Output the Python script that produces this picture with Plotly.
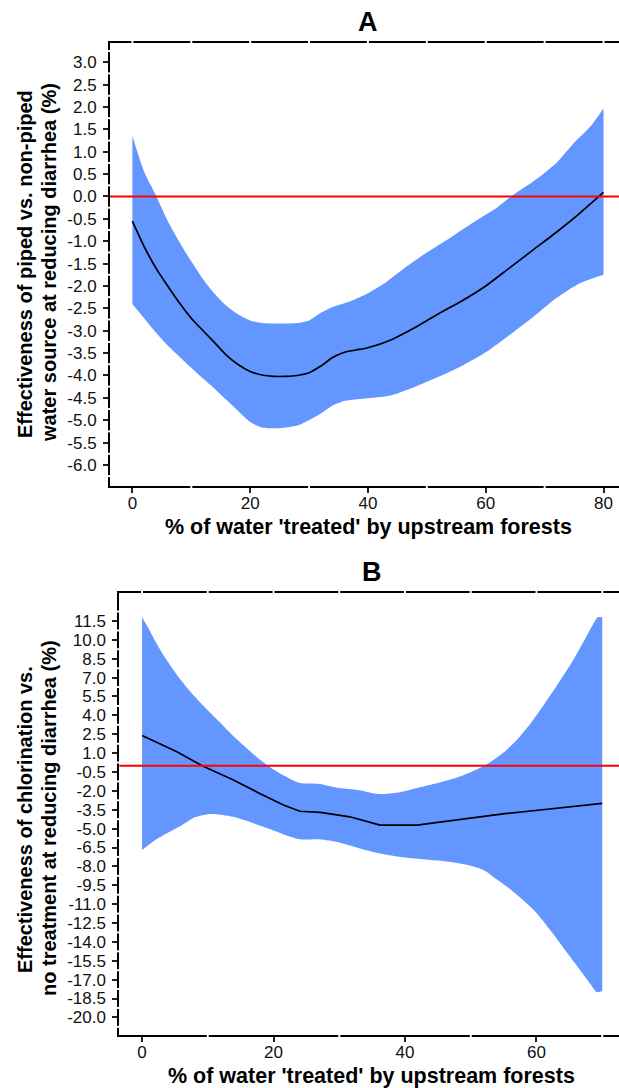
import plotly.graph_objects as go

# ---------------- data: panel A ----------------
a_line_x = [0, 2, 4, 6, 8, 10, 12, 14, 16, 18, 20, 22, 24, 26, 28, 30, 32, 34, 36, 38, 40,
            44, 48, 52, 56, 60, 64, 68, 72, 76, 80]
a_line_y = [-0.55, -1.12, -1.6, -2.0, -2.38, -2.72, -3.0, -3.27, -3.55, -3.76, -3.91, -3.99,
            -4.02, -4.02, -4.0, -3.94, -3.79, -3.6, -3.48, -3.43, -3.38,
            -3.2, -2.93, -2.62, -2.33, -2.0, -1.6, -1.2, -0.8, -0.37, 0.09]

a_up_x = [0, 2, 4, 6, 8, 10, 12, 14, 16, 18, 20, 22, 25, 28, 30, 32, 34, 37, 40, 43, 46,
          50, 54, 58, 62, 64.7, 68, 72, 75, 78, 80]
a_up_y = [1.35, 0.55, 0.02, -0.55, -1.02, -1.45, -1.85, -2.18, -2.45, -2.64, -2.77, -2.83,
          -2.84, -2.83, -2.77, -2.6, -2.47, -2.34, -2.16, -1.92, -1.62,
          -1.25, -0.92, -0.57, -0.24, 0.04, 0.33, 0.75, 1.2, 1.6, 1.97]

a_lo_x = [0, 2, 4, 6, 8, 10, 12, 14, 16, 18, 20, 22, 25, 28, 30, 32, 34, 36, 40, 44, 48,
          52, 56, 60, 64, 68, 72, 76, 80]
a_lo_y = [-2.4, -2.72, -3.04, -3.33, -3.58, -3.83, -4.07, -4.3, -4.55, -4.8, -5.04, -5.16,
          -5.18, -5.12, -5.0, -4.85, -4.67, -4.57, -4.51, -4.44, -4.25,
          -4.03, -3.78, -3.48, -3.1, -2.7, -2.27, -1.94, -1.75]

a_xticks = [0, 20, 40, 60, 80]
a_yticks = [3.0 - 0.5 * i for i in range(19)]      # 3.0 ... -6.0
a_xrange = [-3.8, 82.63]
a_yrange = [-6.47, 3.43]

# ---------------- data: panel B ----------------
b_line_x = [0, 5.3, 9.3, 13.9, 17.9, 21.5, 24, 27.1, 31.6, 36.2, 41.8, 46.8, 50.4, 55.5,
            59.5, 64.6, 70]
b_line_y = [2.4, 1.11, -0.05, -1.14, -2.2, -3.13, -3.62, -3.71, -4.06, -4.72, -4.72, -4.38,
            -4.1, -3.79, -3.58, -3.31, -3.0]

b_up_x = [0, 1, 2, 3, 4, 5, 6, 7, 8, 9, 10, 12, 14, 16, 18, 20, 22, 24, 27, 30, 33, 36,
          39, 42, 45, 48, 51, 53, 55, 57, 59, 61, 63, 65, 67, 69, 69.3, 70]
b_up_y = [11.8, 10.9, 9.9, 9.0, 8.2, 7.45, 6.75, 6.1, 5.5, 4.95, 4.4, 3.35, 2.3, 1.35, 0.45,
          -0.3, -0.9, -1.38, -1.45, -1.78, -1.95, -2.25, -2.12, -1.75, -1.38, -0.92, -0.28,
          0.3, 1.05, 2.05, 3.3, 4.75, 6.3, 7.9, 9.7, 11.6, 11.8, 11.8]

b_lo_x = [0, 2, 4, 6, 8, 10, 12, 14, 16, 18, 20, 22, 24, 27, 30, 33, 36, 40, 44, 47, 50,
          52, 54, 56, 58, 60, 62, 64, 66, 68, 69.2, 70]
b_lo_y = [-6.7, -5.9, -5.3, -4.75, -4.1, -3.85, -3.9, -4.08, -4.4, -4.78, -5.15, -5.55,
          -5.85, -5.85, -6.1, -6.55, -6.95, -7.3, -7.5, -7.65, -7.95,
          -8.3, -9.05, -9.82, -10.7, -11.7, -13.0, -14.4, -15.8, -17.2, -18.0, -17.9]

b_xticks = [0, 20, 40, 60]
b_yticks = [11.5 - 1.5 * i for i in range(22)]     # 11.5 ... -20.0
b_xrange = [-3.46, 72.55]
b_yrange = [-21.4, 13.7]

ref_value = 0.0

# ---------------- text ----------------
a_title = "A"
b_title = "B"
x_title = "% of water 'treated' by upstream forests"
a_ytitle = ["Effectiveness of piped vs. non-piped", "water source at reducing diarrhea (%)"]
b_ytitle = ["Effectiveness of chlorination vs.", "no treatment at reducing diarrhea (%)"]

# ---------------- style ----------------
W, H = 619, 1088
BAND = "rgb(100,150,255)"
FONT = "Arial, Liberation Sans, sans-serif"

a_xdom = [110 / W, 1.0]
a_ydom = [1 - 486 / H, 1 - 43 / H]
b_xdom = [119.3 / W, 1.0]
b_ydom = [1 - 1035 / H, 1 - 593.3 / H]

fig = go.Figure()


def add_panel(xa, ya, lx, ly, ux, uy, lox, loy, lshape):
    fig.add_trace(go.Scatter(
        x=lox, y=loy, mode="lines",
        line=dict(width=0, color=BAND, shape="spline", smoothing=0.7),
        xaxis=xa, yaxis=ya, showlegend=False, hoverinfo="skip"))
    fig.add_trace(go.Scatter(
        x=ux, y=uy, fill="tonexty", fillcolor=BAND, mode="lines",
        line=dict(width=0, color=BAND, shape="spline", smoothing=0.7),
        xaxis=xa, yaxis=ya, showlegend=False, hoverinfo="skip"))
    fig.add_trace(go.Scatter(
        x=lx, y=ly, mode="lines",
        line=dict(color="black", width=1.7, shape=lshape, smoothing=0.6),
        xaxis=xa, yaxis=ya, showlegend=False))


add_panel("x", "y", a_line_x, a_line_y, a_up_x, a_up_y, a_lo_x, a_lo_y, "spline")
add_panel("x2", "y2", b_line_x, b_line_y, b_up_x, b_up_y, b_lo_x, b_lo_y, "linear")

tickfont = dict(family=FONT, size=17, color="#111111")


def xaxis_cfg(dom, rng, ticks, anchor):
    return dict(domain=dom, range=rng, tickvals=ticks, ticktext=[str(t) for t in ticks],
                showgrid=False, zeroline=False, showline=True, linecolor="black",
                linewidth=2, mirror=True, ticks="outside", ticklen=5, tickwidth=1.5,
                tickcolor="#222222", tickfont=tickfont, anchor=anchor,
                ticklabelstandoff=-4)


def yaxis_cfg(dom, rng, ticks, anchor):
    return dict(domain=dom, range=rng, tickvals=ticks, ticktext=[f"{t:.1f}" for t in ticks],
                showgrid=False, zeroline=False, showline=True, linecolor="black",
                linewidth=2, mirror=False, ticks="outside", ticklen=5, tickwidth=1.5,
                tickcolor="#222222", tickfont=tickfont, anchor=anchor,
                ticklabelstandoff=3)


fig.update_layout(
    width=W, height=H, margin=dict(l=0, r=0, t=0, b=0),
    paper_bgcolor="white", plot_bgcolor="white",
    xaxis=xaxis_cfg(a_xdom, a_xrange, a_xticks, "y"),
    yaxis=yaxis_cfg(a_ydom, a_yrange, a_yticks, "x"),
    xaxis2=xaxis_cfg(b_xdom, b_xrange, b_xticks, "y2"),
    yaxis2=yaxis_cfg(b_ydom, b_yrange, b_yticks, "x2"),
)

shapes = []
# red reference lines
for xr, yr in (("x domain", "y"), ("x2 domain", "y2")):
    shapes.append(dict(type="line", xref=xr, yref=yr, x0=0, x1=1, y0=ref_value, y1=ref_value,
                       line=dict(color="red", width=2), layer="above"))

# white gaps on axis lines (minor ticks)
gap = dict(color="white", width=2)
for xr, yr, xdom, ydom, xt, yt, xr_rng in (
        ("x", "y", a_xdom, a_ydom, a_xticks, a_yticks, a_xrange),
        ("x2", "y2", b_xdom, b_ydom, b_xticks, b_yticks, b_xrange)):
    step = xt[1] - xt[0]
    half = step / 2
    v = xt[0]
    while v <= xr_rng[1]:
        shapes.append(dict(type="line", xref=xr, yref="paper", x0=v, x1=v,
                           y0=ydom[1] - 4 / H, y1=ydom[1] + 4 / H, line=gap, layer="above"))
        v += half
    v = xt[0] + half
    while v <= xr_rng[1]:
        shapes.append(dict(type="line", xref=xr, yref="paper", x0=v, x1=v,
                           y0=ydom[0] - 2.5 / H, y1=ydom[0] + 2.5 / H, line=gap, layer="above"))
        v += step
    ystep = yt[0] - yt[1]
    for t in yt + [yt[-1] - ystep]:
        m = t + ystep / 2
        shapes.append(dict(type="line", xref="paper", yref=yr, x0=xdom[0] - 2.5 / W,
                           x1=xdom[0] + 2.5 / W, y0=m, y1=m, line=gap, layer="above"))

fig.update_layout(shapes=shapes)


def txt(text, xp, yp, size, angle=0):
    return dict(text=f"<b>{text}</b>", x=xp / W, y=1 - yp / H, xref="paper", yref="paper",
                showarrow=False, textangle=angle,
                font=dict(family=FONT, size=size, color="black"),
                xanchor="center", yanchor="middle")


ann = [
    txt(a_title, 368, 22, 27),
    txt(b_title, 372, 572, 27),
    txt(x_title, 368, 527, 21.5),
    txt(x_title, 371, 1076, 21.5),
    txt(a_ytitle[0], 25, 264, 20, -90),
    txt(a_ytitle[1], 49, 263, 20, -90),
    txt(b_ytitle[0], 25, 820, 20, -90),
    txt(b_ytitle[1], 49, 818, 20, -90),
]
fig.update_layout(annotations=ann)

fig.write_html("out.html")
